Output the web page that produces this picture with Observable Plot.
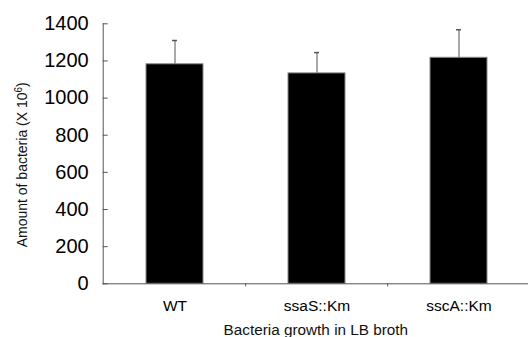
<!DOCTYPE html>
<html>
<head>
<meta charset="utf-8">
<script src="https://cdn.jsdelivr.net/npm/d3@7"></script>
<script src="https://cdn.jsdelivr.net/npm/@observablehq/plot@0.6"></script>
<style>
  html, body { margin: 0; padding: 0; background: #fff; }
  svg { display: block; }
</style>
</head>
<body>
<div id="chart"></div>
<script>
const categories = ["WT", "ssaS::Km", "sscA::Km"];
const means = [1182, 1133, 1217];
const upperErrors = [1310, 1245, 1368];
const yTicks = [0, 200, 400, 600, 800, 1000, 1200, 1400];
const yLabelBase = "Amount of bacteria (X 10";
const yLabelSup = "6";
const yLabelEnd = ")";
const xLabel = "Bacteria growth in LB broth";

const data = categories.map((c, i) => ({cat: c, value: means[i], upper: upperErrors[i]}));

const W = 528, H = 337;
const mL = 102.7, mT = 23.3, mB = 53.7;
const xRange = [mL, 530.8];
const step = (xRange[1] - xRange[0]) / categories.length;
const bw = step * 0.4;
const capHalf = 2.5;
const font = "'Liberation Sans', Arial, sans-serif";

const chart = Plot.plot({
  width: W,
  height: H,
  marginLeft: mL,
  marginRight: 0,
  marginTop: mT,
  marginBottom: mB,
  style: {fontFamily: font, background: "#fff", color: "#000"},
  x: {domain: categories, range: xRange, paddingInner: 0.6, paddingOuter: 0.3, axis: null},
  y: {domain: [0, 1400], axis: null},
  marks: [
    Plot.ruleX(data, {x: "cat", y1: "value", y2: "upper", stroke: "#555", strokeWidth: 1}),
    Plot.tickY(data, {x: "cat", y: "upper", stroke: "#555", strokeWidth: 1.5, insetLeft: bw / 2 - capHalf, insetRight: bw / 2 - capHalf}),
    Plot.barY(data, {x: "cat", y: "value", fill: "#000", stroke: "#888", strokeWidth: 1}),
    Plot.frame({anchor: "left", stroke: "#555"}),
    Plot.frame({anchor: "bottom", stroke: "#555"}),
    Plot.axisY({ticks: yTicks, tickSize: -5, tickPadding: 19.5, fontSize: 20, stroke: "#555", label: null, tickFormat: d => String(d)}),
    Plot.axisX({ticks: categories.slice(1), tickSize: 3, text: null, dx: -step / 2, stroke: "#555", label: null}),
    Plot.axisX({tickSize: 0, tickPadding: 16, fontSize: 15.5, label: null}),
    Plot.text([yLabelBase], {frameAnchor: "left", rotate: -90, dx: -80.7, dy: 11, fontSize: 14, fill: "#111", textAnchor: "middle", className: "ylab"}),
    Plot.text([xLabel], {frameAnchor: "bottom", dy: 46.7, fontSize: 15.3, fill: "#111", lineAnchor: "middle"})
  ]
});
d3.select(chart).selectAll(".ylab text").each(function() {
  const t = d3.select(this);
  t.append("tspan").attr("baseline-shift", "super").attr("font-size", 10).text(yLabelSup);
  t.append("tspan").text(yLabelEnd);
});
document.getElementById("chart").appendChild(chart);
</script>
</body>
</html>
